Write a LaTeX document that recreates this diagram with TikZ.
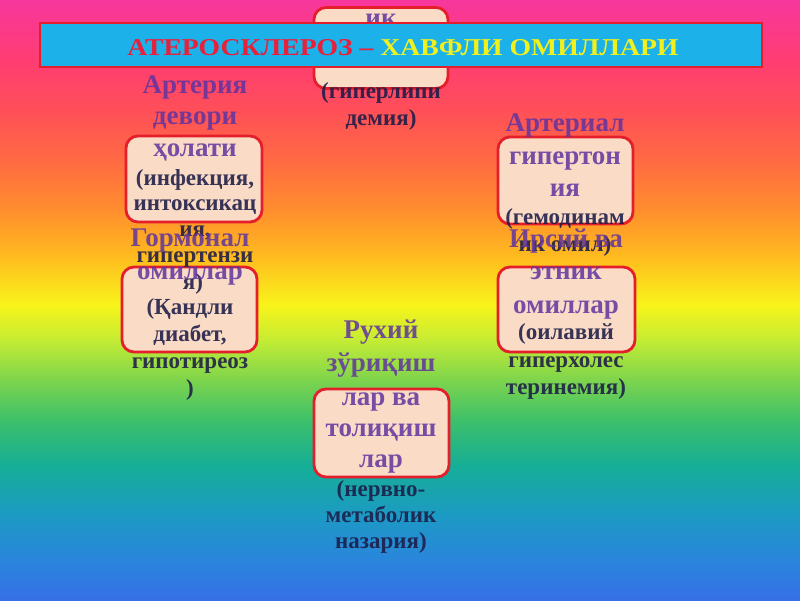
\documentclass[tikz,border=0pt]{standalone}
\usepackage{fontspec}
\usepackage{graphicx}
\setmainfont{Liberation Serif}
\definecolor{boxred}{HTML}{E41E2B}
\definecolor{boxfill}{HTML}{FADBC6}
\definecolor{titlecyan}{HTML}{1CB1E9}
\definecolor{titlered}{HTML}{E8203A}
\definecolor{titleyellow}{HTML}{F0F01E}
\definecolor{txtpurple}{HTML}{6034A0}
\definecolor{txtdark}{HTML}{1C1C48}
\definecolor{g0}{HTML}{F7379D}
\definecolor{g1}{HTML}{FF3D72}
\definecolor{g2}{HTML}{FF4F58}
\definecolor{g3}{HTML}{FF6A42}
\definecolor{g4}{HTML}{FF8E2E}
\definecolor{g5}{HTML}{FFBA1F}
\definecolor{g6}{HTML}{F8F41A}
\definecolor{g7}{HTML}{C4EC34}
\definecolor{g8}{HTML}{7DD44D}
\definecolor{g9}{HTML}{3DC06A}
\definecolor{g10}{HTML}{16AE96}
\definecolor{g11}{HTML}{1C9AC4}
\definecolor{g12}{HTML}{2A85DC}
\definecolor{g13}{HTML}{3670E6}
\tikzset{
  fbox/.style={draw=boxred, line width=2.8pt, fill=boxfill, rounded corners=12pt},
  purp/.style={font=\bfseries\fontsize{27}{30}\selectfont, text=txtpurple, text opacity=.85, inner sep=0pt, text height=18pt, text depth=6pt},
  dark/.style={font=\bfseries\fontsize{23}{26}\selectfont, text=txtdark, text opacity=.88, inner sep=0pt, text height=15.5pt, text depth=5pt},
}
\begin{document}
\begin{tikzpicture}[x=1pt,y=-1pt]
\useasboundingbox (0,0) rectangle (800,600);
% background rainbow
\shade[top color=g0, bottom color=g1] (0,0) rectangle (800,60.5);
\shade[top color=g1, bottom color=g2] (0,60) rectangle (800,110.5);
\shade[top color=g2, bottom color=g3] (0,110) rectangle (800,160.5);
\shade[top color=g3, bottom color=g4] (0,160) rectangle (800,210.5);
\shade[top color=g4, bottom color=g5] (0,210) rectangle (800,255.5);
\shade[top color=g5, bottom color=g6] (0,255) rectangle (800,305.5);
\shade[top color=g6, bottom color=g7] (0,305) rectangle (800,340.5);
\shade[top color=g7, bottom color=g8] (0,340) rectangle (800,380.5);
\shade[top color=g8, bottom color=g9] (0,380) rectangle (800,420.5);
\shade[top color=g9, bottom color=g10] (0,420) rectangle (800,465.5);
\shade[top color=g10, bottom color=g11] (0,465) rectangle (800,515.5);
\shade[top color=g11, bottom color=g12] (0,515) rectangle (800,560.5);
\shade[top color=g12, bottom color=g13] (0,560) rectangle (800,600);

% top centre box (partly under the title)
\node[fbox, minimum width=134pt, minimum height=81pt] (b1) at (381,48) {};
\node[purp] (t1a) at (381,20) {ик};

% title bar
\node[draw=boxred, line width=2.8pt, fill=titlecyan, minimum width=722pt, minimum height=44pt, inner sep=0pt] (title) at (401,45) {};
\node[inner sep=0pt] (titletext) at (403,48) {\resizebox{551pt}{16pt}{\bfseries\textcolor{titlered}{АТЕРОСКЛЕРОЗ –} \textcolor{titleyellow}{ХАВФЛИ ОМИЛЛАРИ}}};

\node[dark] (t1b) at (381,93) {(гиперлипи};
\node[dark] (t1c) at (381,120) {демия)};

% other boxes
\node[fbox, minimum width=136pt, minimum height=86pt] (b2) at (194,179) {};
\node[fbox, minimum width=135pt, minimum height=85pt] (b3) at (189.5,309.5) {};
\node[fbox, minimum width=135pt, minimum height=87pt] (b4) at (565.5,180.5) {};
\node[fbox, minimum width=137pt, minimum height=85pt] (b5) at (566.5,309.5) {};
\node[fbox, minimum width=135pt, minimum height=88pt] (b6) at (381.5,433) {};

% left upper column
\node[purp] (t2a) at (195,87) {Артерия};
\node[purp] (t2b) at (195,118) {девори};
\node[purp] (t2c) at (195,150) {ҳолати};
\node[dark] (t2d) at (195,180) {(инфекция,};
\node[dark] (t2e) at (195,205) {интоксикац};
\node[dark] (t2f) at (195,231) {ия,};
\node[dark] (t2g) at (195,257) {гипертензи};
\node[dark] (t2h) at (193,284) {я)};

% left lower column
\node[purp] (t3a) at (190,240) {Гормонал};
\node[purp] (t3b) at (190,273) {омиллар};
\node[dark] (t3c) at (190,309) {(Қандли};
\node[dark] (t3d) at (190,336) {диабет,};
\node[dark] (t3e) at (190,363) {гипотиреоз};
\node[dark] (t3f) at (190,390) {)};

% right upper column
\node[purp] (t4a) at (565,125) {Артериал};
\node[purp] (t4b) at (565,158) {гипертон};
\node[purp] (t4c) at (565,190) {ия};
\node[dark] (t4d) at (565,219) {(гемодинам};
\node[dark] (t4e) at (565,246) {ик омил)};

% right lower column
\node[purp] (t5a) at (566,241) {Ирсий ва};
\node[purp] (t5b) at (566,273) {этник};
\node[purp] (t5c) at (566,307) {омиллар};
\node[dark] (t5d) at (566,334) {(оилавий};
\node[dark] (t5e) at (566,362) {гиперхолес};
\node[dark] (t5f) at (566,389) {теринемия)};

% bottom centre column
\node[purp] (t6a) at (381,332) {Рухий};
\node[purp] (t6b) at (381,365) {зўриқиш};
\node[purp] (t6c) at (381,399) {лар ва};
\node[purp] (t6d) at (381,430) {толиқиш};
\node[purp] (t6e) at (381,461) {лар};
\node[dark] (t6f) at (381,491) {(нервно-};
\node[dark] (t6g) at (381,517) {метаболик};
\node[dark] (t6h) at (381,543) {назария)};
\end{tikzpicture}
\end{document}
